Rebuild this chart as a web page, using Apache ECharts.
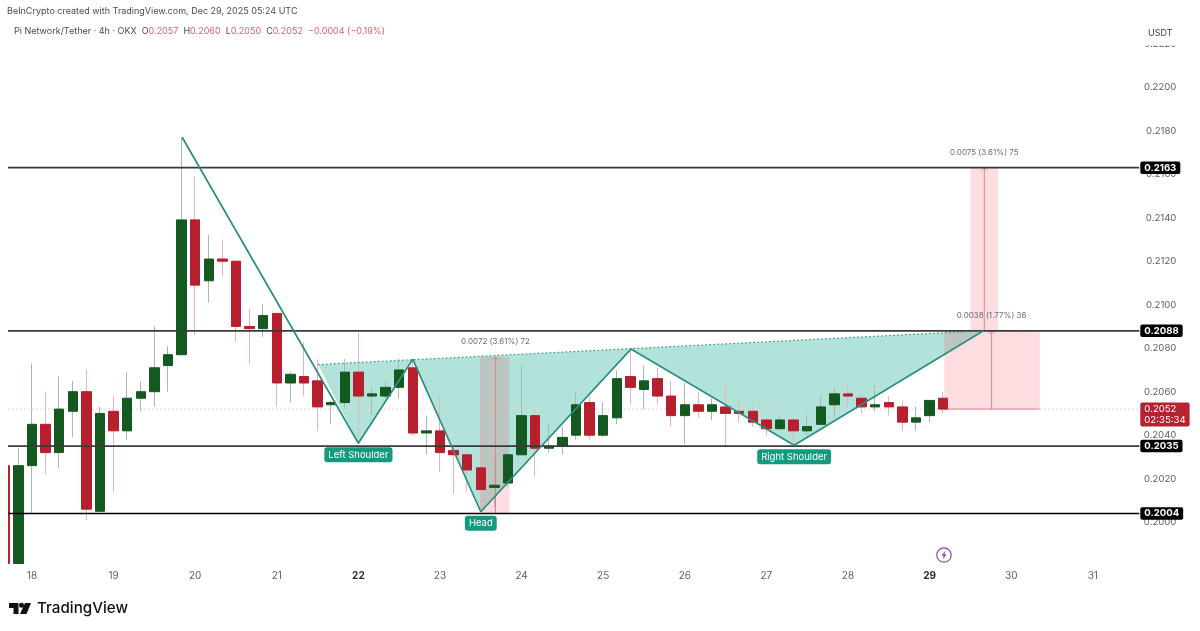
<!DOCTYPE html>
<html>
<head>
<meta charset="utf-8">
<title>Pi Network/Tether</title>
<script src="https://cdn.jsdelivr.net/npm/echarts@6/dist/echarts.min.js"></script>
<style>
    html, body { margin: 0; padding: 0; background: #fff; }
    #chart { width: 1200px; height: 631px; }
</style>
</head>
<body>
<div id="chart"></div>
<script>
// candles, the first one is cut by the left edge
var opens = [0.2026, 0.1981, 0.2026, 0.2045, 0.2032, 0.2051, 0.2060, 0.2005, 0.2051, 0.2042, 0.2057, 0.2060, 0.2072, 0.2077, 0.2139, 0.2111, 0.2121, 0.2120, 0.2090, 0.2089, 0.2096, 0.2064, 0.2067, 0.2065, 0.2054, 0.2055, 0.2069, 0.2058, 0.2058, 0.2062, 0.2071, 0.2041, 0.2042, 0.2033, 0.2031, 0.2025, 0.2016, 0.2018, 0.2031, 0.2049, 0.2034, 0.2035, 0.2040, 0.2055, 0.2040, 0.2048, 0.2067, 0.2061, 0.2066, 0.2058, 0.2049, 0.2054, 0.2051, 0.2053, 0.2051, 0.2051, 0.2047, 0.2043, 0.2047, 0.2042, 0.2045, 0.2054, 0.2059, 0.2057, 0.2053, 0.2055, 0.2053, 0.2046, 0.2049, 0.2057];
var closes = [0.1981, 0.2026, 0.2045, 0.2032, 0.2052, 0.2060, 0.2006, 0.2050, 0.2042, 0.2057, 0.2060, 0.2071, 0.2077, 0.2139, 0.2109, 0.2121, 0.2120, 0.2090, 0.2089, 0.2095, 0.2064, 0.2068, 0.2064, 0.2053, 0.2055, 0.2069, 0.2058, 0.2059, 0.2062, 0.2070, 0.2041, 0.2042, 0.2032, 0.2031, 0.2024, 0.2015, 0.2017, 0.2031, 0.2049, 0.2034, 0.2035, 0.2039, 0.2054, 0.2040, 0.2049, 0.2066, 0.2062, 0.2065, 0.2058, 0.2049, 0.2054, 0.2051, 0.2054, 0.2050, 0.2050, 0.2046, 0.2043, 0.2047, 0.2042, 0.2044, 0.2053, 0.2059, 0.2058, 0.2053, 0.2054, 0.2053, 0.2046, 0.2048, 0.2056, 0.2052];
var highs = [0.2030, 0.2034, 0.2073, 0.2060, 0.2067, 0.2065, 0.2070, 0.2053, 0.2058, 0.2069, 0.2065, 0.2090, 0.2081, 0.2177, 0.2159, 0.2132, 0.2130, 0.2120, 0.2098, 0.2100, 0.2096, 0.2069, 0.2083, 0.2075, 0.2056, 0.2075, 0.2087, 0.2062, 0.2065, 0.2075, 0.2075, 0.2049, 0.2058, 0.2035, 0.2033, 0.2045, 0.2027, 0.2031, 0.2072, 0.2052, 0.2045, 0.2044, 0.2060, 0.2058, 0.2055, 0.2070, 0.2079, 0.2072, 0.2071, 0.2065, 0.2064, 0.2060, 0.2057, 0.2063, 0.2056, 0.2054, 0.2048, 0.2049, 0.2048, 0.2049, 0.2058, 0.2062, 0.2063, 0.2059, 0.2063, 0.2058, 0.2056, 0.2053, 0.2056, 0.2060];
var lows = [0.1981, 0.1981, 0.2004, 0.2022, 0.2025, 0.2039, 0.2001, 0.2005, 0.2014, 0.2038, 0.2051, 0.2053, 0.2060, 0.2077, 0.2086, 0.2101, 0.2113, 0.2083, 0.2073, 0.2085, 0.2053, 0.2055, 0.2058, 0.2042, 0.2045, 0.2052, 0.2036, 0.2049, 0.2057, 0.2057, 0.2040, 0.2031, 0.2023, 0.2013, 0.2014, 0.2005, 0.2007, 0.2016, 0.2031, 0.2021, 0.2032, 0.2031, 0.2038, 0.2038, 0.2039, 0.2045, 0.2054, 0.2052, 0.2054, 0.2044, 0.2036, 0.2048, 0.2047, 0.2035, 0.2046, 0.2044, 0.2040, 0.2042, 0.2036, 0.2040, 0.2045, 0.2048, 0.2053, 0.2050, 0.2051, 0.2049, 0.2042, 0.2042, 0.2046, 0.2050];

// 4h candles, first candle opens on the 17th at 16:00
var firstDay = 17 + 4 / 6;
var days = opens.map(function(v, i) { return firstDay + i / 6; });

var priceTicks = [0.2000, 0.2020, 0.2040, 0.2060, 0.2080, 0.2100, 0.2120, 0.2140, 0.2160, 0.2180, 0.2200, 0.2220];
var dayLabels = [18, 19, 20, 21, 22, 23, 24, 25, 26, 27, 28, 29, 30, 31];
var boldDays = [22, 29];

var levels = [0.2163, 0.2088, 0.2035, 0.2004];
var lastPrice = 0.2052;
var lastTimer = '02:35:34';

// head and shoulders drawing
var zigDays = [19.84, 22.0, 22.667, 23.5, 25.34, 27.34, 29.66];
var zigPrices = [0.2177, 0.20363, 0.20749, 0.20048, 0.20796, 0.20354, 0.2088];
var neckDays = [21.505, 29.66];
var neckPrices = [0.20725, 0.2088];
var patternNames = ['Left Shoulder', 'Head', 'Right Shoulder'];
var patternDays = [22.0, 23.5, 27.34];
var patternPrices = [0.20363, 0.20048, 0.20354];

// price range boxes
var boxStart = [23.49, 29.5, 29.18];
var boxEnd = [23.85, 29.84, 30.35];
var boxMid = [23.68, 29.67, 29.76];
var boxLow = [0.2004, 0.2088, 0.2052];
var boxHigh = [0.2076, 0.2163, 0.2088];
var boxText = ['0.0072 (3.61%) 72', '0.0075 (3.61%) 75', '0.0038 (1.77%) 36'];

var UI_FONT = 'Inter, "Noto Sans", sans-serif';
var UP = '#14591f';
var DOWN = '#b71f2e';
var TEAL = '#2a8f7f';
var edgeLeft = 17.706;   // x=8
var edgeRight = 31.57;   // x=1138

function candle(i, wick) {
    if (wick) {
        return [days[i], opens[i], closes[i], lows[i], highs[i]];
    }
    // body only series, wick pulled back onto the body
    return [days[i], opens[i], closes[i], Math.min(opens[i], closes[i]), Math.max(opens[i], closes[i])];
}

var wickData = opens.map(function(v, i) { return candle(i, true); });
var bodyData = opens.map(function(v, i) { return candle(i, false); });

var levelSeries = levels.map(function(v, i) {
    return {
        type: 'line',
        z: 4,
        silent: true,
        symbol: 'none',
        lineStyle: { color: i == 3 ? '#000' : '#3a3a3a', width: i == 3 ? 1.3 : 1.7 },
        data: [[edgeLeft, v], [edgeRight, v]]
    };
});

var option = {
    animation: false,
    backgroundColor: '#fff',
    textStyle: { fontFamily: UI_FONT },
    title: [
        {
            text: 'BeInCrypto created with TradingView.com, Dec 29, 2025 05:24 UTC',
            left: 7, top: 7, padding: 0,
            textStyle: { fontSize: 9, fontWeight: 'normal', color: '#4a4c55', fontFamily: UI_FONT }
        },
        {
            text: 'Pi Network/Tether · 4h · OKX  {k|O}{v|0.2057}  {k|H}{v|0.2060}  {k|L}{v|0.2050}  {k|C}{v|0.2052}  {v|−0.0004 (−0.19%)}',
            left: 14, top: 27, padding: 0,
            textStyle: {
                fontSize: 9, fontWeight: 'normal', color: '#4a4c55', fontFamily: UI_FONT,
                rich: {
                    k: { fontSize: 9, color: '#4a4c55', fontFamily: UI_FONT },
                    v: { fontSize: 9, color: '#e0606e', fontFamily: UI_FONT }
                }
            }
        }
    ],
    grid: { left: -49.6, width: 1224, top: 43.7, height: 522, containLabel: false, outerBoundsMode: 'none' },
    xAxis: {
        type: 'value',
        min: 17,
        max: 32,
        interval: 1,
        splitLine: { show: false },
        axisLine: { show: false },
        axisTick: { show: false },
        axisLabel: {
            margin: 5,
            fontSize: 10,
            color: '#5d606b',
            showMinLabel: false,
            showMaxLabel: false,
            formatter: function(v) {
                if (dayLabels.indexOf(v) < 0) return '';
                return boldDays.indexOf(v) >= 0 ? '{b|' + v + '}' : String(v);
            },
            rich: { b: { fontSize: 10, fontWeight: 'bold', color: '#2a2c33' } }
        }
    },
    yAxis: {
        type: 'value',
        position: 'right',
        min: 0.198,
        max: 0.222,
        interval: 0.002,
        splitLine: { show: false },
        axisLine: { show: false },
        axisTick: { show: false },
        axisLabel: {
            inside: true,
            margin: -2,
            fontSize: 9.6,
            color: '#5d606b',
            formatter: function(v) {
                return priceTicks.indexOf(+v.toFixed(4)) >= 0 ? v.toFixed(4) : '';
            }
        }
    },
    series: levelSeries.concat([
        // neckline fill, under the candles
        {
            type: 'custom',
            z: 1,
            silent: true,
            data: [0],
            renderItem: function(params, api) {
                var pts = [api.coord([neckDays[0], neckPrices[0]])];
                for (var i = 1; i < zigDays.length; i++) {
                    pts.push(api.coord([zigDays[i], zigPrices[i]]));
                }
                return { type: 'polygon', shape: { points: pts }, style: { fill: '#b2e3da' } };
            }
        },
        // range boxes
        {
            type: 'custom',
            z: 1.5,
            silent: true,
            data: boxStart.map(function(v, i) { return i; }),
            renderItem: function(params, api) {
                var i = api.value(0);
                var a = api.coord([boxStart[i], boxHigh[i]]);
                var b = api.coord([boxEnd[i], boxLow[i]]);
                var top = api.coord([boxMid[i], boxHigh[i]]);
                var bot = api.coord([boxMid[i], boxLow[i]]);
                var red = '#e2808c';
                return {
                    type: 'group',
                    children: [
                        { type: 'rect', shape: { x: a[0], y: a[1], width: b[0] - a[0], height: b[1] - a[1] }, style: { fill: 'rgba(242,54,69,0.17)' } },
                        { type: 'line', shape: { x1: top[0], y1: top[1], x2: bot[0], y2: bot[1] }, style: { stroke: red, lineWidth: 1 } },
                        { type: 'polyline', shape: { points: [[top[0] - 3, top[1] + 3], [top[0], top[1]], [top[0] + 3, top[1] + 3]] }, style: { stroke: red, lineWidth: 1, fill: 'none' } },
                        { type: 'line', shape: { x1: a[0], y1: b[1], x2: b[0], y2: b[1] }, style: { stroke: i == 2 ? red : 'none', lineWidth: 1 } },
                        { type: 'text', x: top[0], y: top[1] - 15, style: { text: boxText[i], fontSize: 8, fill: '#6a6d75', align: 'center', verticalAlign: 'middle', fontFamily: UI_FONT } }
                    ]
                };
            }
        },
        // last price line
        {
            type: 'line',
            z: 1,
            silent: true,
            symbol: 'none',
            lineStyle: { color: '#e6d3d6', width: 1, type: [2, 2] },
            data: [[edgeLeft, lastPrice], [edgeRight, lastPrice]]
        },
        {
            type: 'candlestick',
            z: 2,
            silent: true,
            barWidth: 1,
            encode: { x: 0, y: [1, 2, 3, 4] },
            itemStyle: { color: '#a6bba9', color0: '#ecb2b9', borderColor: '#a6bba9', borderColor0: '#ecb2b9', borderColorDoji: '#a6bba9', borderWidth: 1 },
            data: wickData
        },
        {
            type: 'candlestick',
            z: 3,
            silent: true,
            barWidth: 10,
            encode: { x: 0, y: [1, 2, 3, 4] },
            itemStyle: { color: UP, color0: DOWN, borderColor: UP, borderColor0: DOWN, borderColorDoji: UP, borderWidth: 1 },
            data: bodyData
        },
        // zigzag outline
        {
            type: 'line',
            z: 5,
            silent: true,
            symbol: 'none',
            lineStyle: { color: TEAL, width: 1.7 },
            data: zigDays.map(function(d, i) { return [d, zigPrices[i]]; })
        },
        // neckline
        {
            type: 'line',
            z: 5,
            silent: true,
            symbol: 'none',
            lineStyle: { color: TEAL, width: 1.2, type: [1.5, 2.5] },
            data: neckDays.map(function(d, i) { return [d, neckPrices[i]]; })
        },
        // pattern labels
        {
            type: 'scatter',
            z: 6,
            silent: true,
            symbolSize: 0,
            itemStyle: { opacity: 1 },
            data: patternDays.map(function(d, i) { return { name: patternNames[i], value: [d, patternPrices[i]] }; }),
            label: {
                show: true,
                position: 'bottom',
                distance: 4,
                formatter: '{b}',
                color: '#fff',
                fontSize: 9.5,
                fontFamily: UI_FONT,
                backgroundColor: '#149a80',
                borderRadius: 3,
                padding: [2.5, 4, 2.5, 4]
            }
        },
        // level tags on the price scale
        {
            type: 'scatter',
            z: 7,
            silent: true,
            symbolSize: 0,
            itemStyle: { opacity: 1 },
            data: levels.map(function(v) { return [edgeRight, v]; }),
            label: {
                show: true,
                position: 'right',
                distance: 1,
                formatter: function(p) { return p.value[1].toFixed(4); },
                color: '#fff',
                fontSize: 9.6,
                fontWeight: 'bold',
                fontFamily: UI_FONT,
                backgroundColor: '#000',
                borderRadius: 2,
                padding: [1.5, 4, 1, 4]
            }
        },
        {
            type: 'scatter',
            z: 7,
            silent: true,
            symbolSize: 0,
            itemStyle: { opacity: 1 },
            data: [[edgeRight, lastPrice]],
            label: {
                show: true,
                position: 'right',
                distance: 1,
                offset: [0, 5.5],
                formatter: function(p) { return p.value[1].toFixed(4) + '\n' + lastTimer; },
                color: '#fff',
                fontSize: 9.6,
                lineHeight: 11.5,
                fontFamily: UI_FONT,
                backgroundColor: '#b72233',
                borderRadius: 2,
                padding: [1, 4, 0, 4]
            }
        }
    ]),
    graphic: [
        // hides what falls left of the pane and the clipped top tick
        { type: 'rect', z: 100, shape: { x: 0, y: 40, width: 8, height: 530 }, style: { fill: '#fff' } },
        { type: 'rect', z: 100, shape: { x: 1140, y: 36, width: 60, height: 9.5 }, style: { fill: '#fff' } },
        { type: 'text', z: 101, x: 1148, y: 33, style: { text: 'USDT', fontSize: 9, fill: '#3c3e47', verticalAlign: 'middle', fontFamily: UI_FONT } },
        // session break icon
        { type: 'circle', z: 101, shape: { cx: 944, cy: 555, r: 7.2 }, style: { fill: '#fff', stroke: '#8e44ad', lineWidth: 1.2 } },
        { type: 'polygon', z: 102, shape: { points: [[945.5, 550.5], [941.5, 555.8], [943.8, 555.8], [942.6, 559.5], [946.6, 554.2], [944.3, 554.2]] }, style: { fill: '#8e44ad' } },
        // TradingView logo
        { type: 'polygon', z: 101, shape: { points: [[9, 603], [18.5, 603], [18.5, 614], [13.5, 614], [13.5, 608], [9, 608]] }, style: { fill: '#111' } },
        { type: 'circle', z: 101, shape: { cx: 21.5, cy: 605.3, r: 2.5 }, style: { fill: '#111' } },
        { type: 'polygon', z: 101, shape: { points: [[25, 603], [31, 603], [26.5, 614], [20, 614]] }, style: { fill: '#111' } },
        { type: 'text', z: 101, x: 37, y: 608.5, style: { text: 'TradingView', fontSize: 15.2, fontWeight: 500, fill: '#111', verticalAlign: 'middle', fontFamily: UI_FONT } }
    ]
};

var myChart = echarts.init(document.getElementById('chart'), null, { renderer: 'canvas' });
myChart.setOption(option);
</script>
</body>
</html>
